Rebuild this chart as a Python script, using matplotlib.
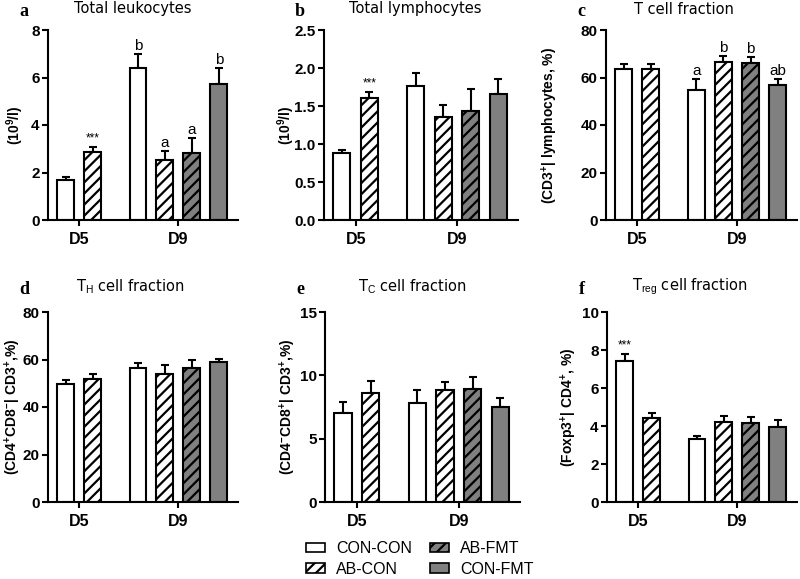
import numpy as np
import matplotlib.pyplot as plt
from matplotlib.patches import Patch

###########################################################
# data

groups = ['CON-CON', 'AB-CON', 'AB-FMT', 'CON-FMT']
bar_group = ['CON-CON', 'AB-CON', 'CON-CON', 'AB-CON', 'AB-FMT', 'CON-FMT']
days = ['D5', 'D9']

leuko_mean = [1.68, 2.88, 6.39, 2.53, 2.84, 5.71]
leuko_err = [0.14, 0.21, 0.59, 0.39, 0.60, 0.70]

lympho_mean = [0.877, 1.61, 1.76, 1.35, 1.43, 1.66]
lympho_err = [0.05, 0.08, 0.18, 0.16, 0.29, 0.20]

tcell_mean = [63.4, 63.7, 54.7, 66.4, 66.0, 56.8]
tcell_err = [2.1, 1.8, 4.5, 2.7, 2.5, 2.6]

th_mean = [49.8, 51.6, 56.4, 54.0, 56.3, 59.0]
th_err = [1.7, 2.2, 2.1, 3.5, 3.3, 1.4]

tc_mean = [7.05, 8.58, 7.84, 8.81, 8.94, 7.50]
tc_err = [0.82, 0.94, 1.02, 0.66, 0.95, 0.68]

treg_mean = [7.43, 4.42, 3.29, 4.20, 4.16, 3.95]
treg_err = [0.38, 0.25, 0.19, 0.31, 0.33, 0.37]

# annotations above bars: (bar index, text)
leuko_notes = [(1, '***'), (2, 'b'), (3, 'a'), (4, 'a'), (5, 'b')]
lympho_notes = [(1, '***')]
tcell_notes = [(2, 'a'), (3, 'b'), (4, 'b'), (5, 'ab')]
treg_notes = [(0, '***')]

###########################################################
# styles

plt.rcParams['font.family'] = ['Liberation Sans', 'DejaVu Sans']
plt.rcParams['mathtext.fontset'] = 'custom'
plt.rcParams['mathtext.rm'] = 'Liberation Sans'
plt.rcParams['mathtext.bf'] = 'Liberation Sans:bold'
plt.rcParams['hatch.linewidth'] = 1.6

face = {'CON-CON': 'white', 'AB-CON': 'white', 'AB-FMT': '#808080', 'CON-FMT': '#808080'}
hatch = {'CON-CON': None, 'AB-CON': '///', 'AB-FMT': '///', 'CON-FMT': None}

xpos = np.array([0, 1, 2.68, 3.68, 4.68, 5.68])
xtick_pos = [0.5, 4.18]

# rect = axes box in pixels (left, top, right, bottom); lab = y label centre x in pixels
panels = [
    dict(letter='a', title='Total leukocytes', mean=leuko_mean, err=leuko_err,
         ylabel=r'(10$^{\mathbf{9}}$/l)', ylim=8, yticks=[0, 2, 4, 6, 8], fmt='%d',
         notes=leuko_notes, rect=[48, 30, 238, 220], lab=15, tx=133, lx=24, ty=9),
    dict(letter='b', title='Total lymphocytes', mean=lympho_mean, err=lympho_err,
         ylabel=r'(10$^{\mathbf{9}}$/l)', ylim=2.5, yticks=[0, 0.5, 1.0, 1.5, 2.0, 2.5], fmt='%.1f',
         notes=lympho_notes, rect=[324, 30, 518, 220], lab=286, tx=415, lx=300, ty=9),
    dict(letter='c', title='T cell fraction', mean=tcell_mean, err=tcell_err,
         ylabel=r'(CD3$^{\mathbf{+}}$| lymphocytes, %)', ylim=80, yticks=[0, 20, 40, 60, 80], fmt='%d',
         notes=tcell_notes, rect=[606, 30, 797, 220], lab=550, tx=684, lx=581, ty=9),
    dict(letter='d', title=r'T$_{\mathrm{H}}$ cell fraction', mean=th_mean, err=th_err,
         ylabel=r'(CD4$^{\mathbf{+}}$CD8$^{\mathbf{-}}$| CD3$^{\mathbf{+}}$,%)', ylim=80,
         yticks=[0, 20, 40, 60, 80], fmt='%d',
         notes=[], rect=[48, 312, 238, 502], lab=13, tx=130, lx=24, ty=287),
    dict(letter='e', title=r'T$_{\mathrm{C}}$ cell fraction', mean=tc_mean, err=tc_err,
         ylabel=r'(CD4$^{\mathbf{-}}$CD8$^{\mathbf{+}}$| CD3$^{\mathbf{+}}$,%)', ylim=15,
         yticks=[0, 5, 10, 15], fmt='%d',
         notes=[], rect=[325, 312, 520, 502], lab=288, tx=412, lx=300, ty=287),
    dict(letter='f', title=r'T$_{\mathrm{reg}}$ cell fraction', mean=treg_mean, err=treg_err,
         ylabel=r'(Foxp3$^{\mathbf{+}}$| CD4$^{\mathbf{+}}$, %)', ylim=10,
         yticks=[0, 2, 4, 6, 8, 10], fmt='%d',
         notes=treg_notes, rect=[607, 312, 797, 502], lab=569, tx=690, lx=582, ty=287),
]

###########################################################
# main program

W, H = 800, 579
fig = plt.figure(figsize=(W / 100, H / 100), dpi=100)

for p in panels:
    x0, y0, x1, y1 = p['rect']
    ax = fig.add_axes([x0 / W, 1 - y1 / H, (x1 - x0) / W, (y1 - y0) / H])

    mean = np.array(p['mean'])
    err = np.array(p['err'])

    ax.errorbar(xpos, mean, yerr=[np.zeros_like(err), err], fmt='none', ecolor='black',
                elinewidth=1.5, capsize=3, capthick=1.5, zorder=1)
    for i, g in enumerate(bar_group):
        ax.bar(xpos[i], mean[i], width=0.62, color=face[g], hatch=hatch[g],
               edgecolor='black', linewidth=1.5, zorder=2)

    for i, txt in p['notes']:
        top = mean[i] + err[i]
        if txt == '***':
            ax.text(xpos[i], top + p['ylim'] * 0.01, txt, ha='center', va='bottom', fontsize=8.5)
        else:
            ax.text(xpos[i], top + p['ylim'] * 0.005, txt, ha='center', va='bottom', fontsize=11)

    ax.set_xlim(-0.65, 6.39)
    ax.set_ylim(0, p['ylim'])
    ax.set_yticks(p['yticks'])
    ax.set_yticklabels([p['fmt'] % v for v in p['yticks']], fontsize=11, fontweight='bold')
    ax.set_xticks(xtick_pos)
    ax.set_xticklabels(days, fontsize=11.5, fontweight='bold')
    ax.tick_params(axis='both', width=1.5, length=4, pad=2)
    ax.tick_params(axis='x', length=4, pad=5)
    ax.set_ylabel(p['ylabel'], fontsize=10, fontweight='bold', va='center')
    ax.yaxis.set_label_coords((p['lab'] - x0) / (x1 - x0), 0.5)

    for s in ['top', 'right']:
        ax.spines[s].set_visible(False)
    for s in ['left', 'bottom']:
        ax.spines[s].set_linewidth(1.5)

    fig.text(p['tx'] / W, 1 - p['ty'] / H, p['title'], ha='center', va='center',
             fontsize=10.5, family='DejaVu Sans')
    fig.text(p['lx'] / W, 1 - (p['ty'] + 2) / H, p['letter'], ha='center', va='center',
             fontsize=13, fontweight='bold', family='Liberation Serif')

# legend
handles = [Patch(facecolor=face[g], edgecolor='black', hatch=hatch[g], linewidth=1.2) for g in groups]
fig.legend(handles, groups, loc='upper left', bbox_to_anchor=(298 / W, 1 - 533 / H),
           ncol=2, frameon=False, fontsize=11.5, handlelength=1.2, handleheight=0.55,
           handletextpad=0.7, columnspacing=1.1, labelspacing=0.35, borderpad=0)

plt.savefig('out.png', dpi=100)
